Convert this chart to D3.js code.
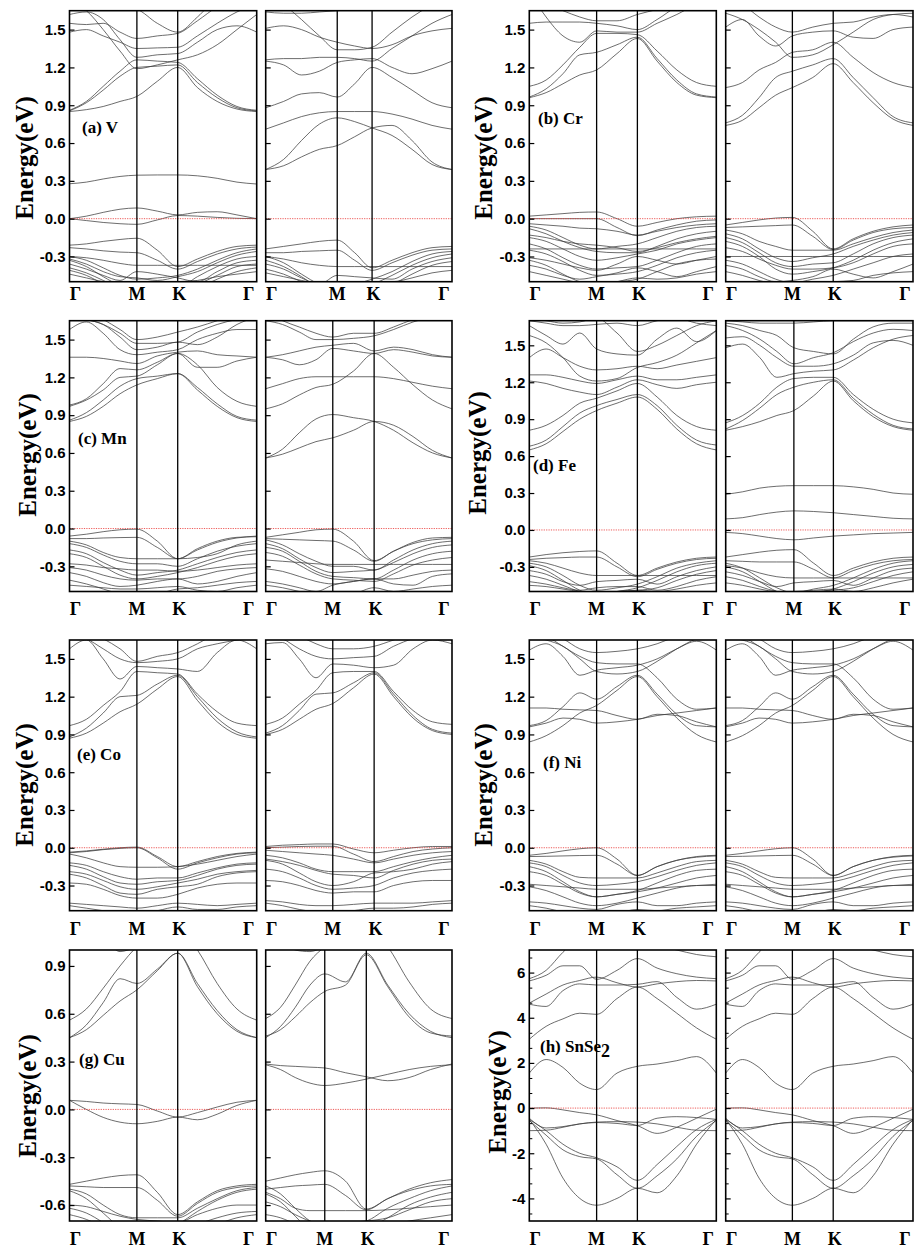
<!DOCTYPE html>
<html>
<head>
<meta charset="utf-8">
<script src="https://cdn.jsdelivr.net/npm/d3@7"></script>
<style>
  body { margin: 0; background: #fff; }
  svg text { fill: #000; }
</style>
</head>
<body>
<svg id="chart" width="914" height="1248"></svg>
<script>
// ---- k-path: high symmetry points and their labels ----
var kLabels = ["Γ", "M", "K", "Γ"];
// path coordinate of Γ, M, K, Γ for each sub plot (spin up / spin down)
var kPathStd = [0, 0.36, 0.578, 1];
var kPathA2  = [0, 0.384, 0.571, 1];
var kPathR2  = [0, 0.356, 0.574, 1];
var kPathC2  = [0, 0.36, 0.582, 1];
var kPathD2  = [0, 0.364, 0.575, 1];
var kPathG2  = [0, 0.317, 0.54, 1];

// energies are read at: Γ, 3 points on Γ-M, M, 1 point on M-K, K, 3 points on K-Γ, Γ
var ticksEnergy = [-0.3, 0, 0.3, 0.6, 0.9, 1.2, 1.5];
var ticksCu     = [-0.6, -0.3, 0, 0.3, 0.6, 0.9];
var ticksSnSe2  = [-4, -2, 0, 2, 4, 6];

// ---- (a) V ----
var bandsVUp = [
  [0.277,0.29,0.315,0.335,0.345,0.347,0.347,0.34,0.32,0.29,0.275],
  [0.0,0.02,0.05,0.075,0.085,0.06,0.03,0.05,0.055,0.03,0.0],
  [0.0,-0.015,-0.03,-0.04,-0.045,-0.01,0.025,0.02,0.01,0.003,0.0],
  [0.85,0.865,0.89,0.93,0.97,1.09,1.20,1.04,0.93,0.87,0.85],
  [0.855,0.92,1.02,1.13,1.20,1.21,1.22,1.08,0.96,0.88,0.855],
  [0.86,0.93,1.05,1.17,1.26,1.25,1.24,1.11,0.98,0.89,0.86],
  [1.48,1.50,1.45,1.40,1.35,1.355,1.36,1.45,1.55,1.64,1.70],
  [1.55,1.54,1.55,1.48,1.43,1.45,1.47,1.57,1.68,1.75,1.80],
  [1.62,1.64,1.58,1.42,1.28,1.30,1.31,1.40,1.50,1.53,1.48],
  [1.72,1.65,1.50,1.33,1.19,1.22,1.26,1.30,1.38,1.50,1.62],
  [1.80,1.75,1.70,1.68,1.66,1.55,1.48,1.60,1.75,1.80,1.80],
  [-0.21,-0.20,-0.18,-0.165,-0.155,-0.25,-0.38,-0.32,-0.26,-0.22,-0.21],
  [-0.23,-0.24,-0.255,-0.265,-0.27,-0.33,-0.40,-0.34,-0.28,-0.24,-0.225],
  [-0.30,-0.31,-0.33,-0.355,-0.37,-0.37,-0.37,-0.37,-0.37,-0.37,-0.37],
  [-0.30,-0.33,-0.39,-0.45,-0.48,-0.47,-0.45,-0.40,-0.33,-0.27,-0.24],
  [-0.32,-0.36,-0.42,-0.46,-0.47,-0.49,-0.46,-0.42,-0.35,-0.29,-0.26],
  [-0.33,-0.38,-0.46,-0.53,-0.56,-0.56,-0.55,-0.46,-0.38,-0.32,-0.30],
  [-0.36,-0.40,-0.45,-0.49,-0.42,-0.44,-0.47,-0.50,-0.42,-0.35,-0.33],
  [-0.39,-0.43,-0.49,-0.55,-0.58,-0.57,-0.56,-0.52,-0.45,-0.38,-0.36],
  [-0.41,-0.45,-0.52,-0.60,-0.62,-0.60,-0.58,-0.55,-0.48,-0.42,-0.39],
  [-0.44,-0.47,-0.50,-0.52,-0.54,-0.52,-0.50,-0.49,-0.46,-0.44,-0.42]
];
var bandsVDn = [
  [0.39,0.42,0.49,0.55,0.58,0.65,0.72,0.74,0.62,0.45,0.39],
  [0.39,0.47,0.62,0.75,0.80,0.77,0.72,0.66,0.55,0.43,0.39],
  [0.71,0.76,0.81,0.84,0.85,0.85,0.85,0.83,0.79,0.74,0.71],
  [0.88,0.93,0.99,1.0,0.965,1.07,1.20,1.12,1.02,0.92,0.88],
  [1.25,1.22,1.14,1.17,1.24,1.26,1.27,1.20,1.15,1.19,1.25],
  [1.26,1.27,1.27,1.28,1.28,1.27,1.25,1.35,1.45,1.55,1.62],
  [1.51,1.53,1.50,1.44,1.40,1.37,1.35,1.38,1.45,1.49,1.51],
  [1.64,1.63,1.63,1.64,1.65,1.66,1.68,1.70,1.72,1.72,1.72],
  [1.80,1.70,1.58,1.45,1.34,1.34,1.36,1.48,1.60,1.70,1.80],
  [-0.24,-0.22,-0.20,-0.18,-0.17,-0.27,-0.39,-0.33,-0.27,-0.23,-0.22],
  [-0.27,-0.27,-0.26,-0.255,-0.25,-0.33,-0.41,-0.35,-0.29,-0.25,-0.24],
  [-0.30,-0.32,-0.35,-0.37,-0.38,-0.38,-0.38,-0.38,-0.38,-0.38,-0.38],
  [-0.30,-0.35,-0.44,-0.52,-0.55,-0.52,-0.48,-0.42,-0.34,-0.28,-0.26],
  [-0.33,-0.38,-0.46,-0.55,-0.58,-0.55,-0.52,-0.45,-0.37,-0.31,-0.28],
  [-0.36,-0.40,-0.47,-0.52,-0.45,-0.46,-0.47,-0.48,-0.40,-0.34,-0.31],
  [-0.40,-0.44,-0.50,-0.55,-0.57,-0.56,-0.55,-0.52,-0.44,-0.37,-0.34],
  [-0.43,-0.46,-0.49,-0.52,-0.53,-0.52,-0.50,-0.50,-0.47,-0.43,-0.41]
];

// ---- (b) Cr ----
var bandsCrUp = [
  [0.96,1.0,1.07,1.14,1.18,1.31,1.43,1.25,1.08,0.98,0.96],
  [0.965,1.03,1.15,1.30,1.32,1.38,1.44,1.27,1.10,0.99,0.965],
  [1.05,1.10,1.22,1.36,1.47,1.47,1.46,1.33,1.18,1.08,1.05],
  [1.80,1.60,1.45,1.40,1.49,1.48,1.48,1.55,1.62,1.70,1.75],
  [1.55,1.56,1.56,1.56,1.55,1.53,1.50,1.58,1.68,1.72,1.75],
  [1.72,1.70,1.65,1.60,1.57,1.57,1.62,1.66,1.70,1.72,1.72],
  [0.02,0.03,0.04,0.05,0.053,0.0,-0.06,-0.03,0.0,0.015,0.02],
  [0.0,0.0,0.0,0.0,0.0,-0.07,-0.135,-0.09,-0.05,-0.02,-0.01],
  [-0.04,-0.05,-0.06,-0.075,-0.08,-0.10,-0.13,-0.10,-0.07,-0.05,-0.04],
  [-0.06,-0.09,-0.15,-0.21,-0.24,-0.22,-0.20,-0.15,-0.10,-0.07,-0.06],
  [-0.08,-0.12,-0.18,-0.23,-0.26,-0.27,-0.27,-0.22,-0.16,-0.12,-0.10],
  [-0.13,-0.15,-0.18,-0.20,-0.21,-0.23,-0.26,-0.23,-0.19,-0.16,-0.14],
  [-0.15,-0.18,-0.24,-0.30,-0.33,-0.31,-0.28,-0.25,-0.20,-0.17,-0.15],
  [-0.20,-0.24,-0.31,-0.37,-0.40,-0.39,-0.38,-0.33,-0.27,-0.22,-0.20],
  [-0.24,-0.24,-0.24,-0.24,-0.24,-0.24,-0.24,-0.24,-0.24,-0.24,-0.24],
  [-0.25,-0.28,-0.34,-0.41,-0.45,-0.44,-0.42,-0.37,-0.31,-0.27,-0.25],
  [-0.31,-0.33,-0.36,-0.39,-0.41,-0.36,-0.30,-0.33,-0.36,-0.33,-0.30],
  [-0.33,-0.37,-0.44,-0.50,-0.52,-0.50,-0.48,-0.42,-0.36,-0.33,-0.32],
  [-0.37,-0.40,-0.45,-0.48,-0.46,-0.43,-0.39,-0.42,-0.46,-0.42,-0.38],
  [-0.42,-0.45,-0.48,-0.51,-0.53,-0.50,-0.47,-0.48,-0.47,-0.44,-0.42]
];
var bandsCrDn = [
  [0.74,0.78,0.88,0.98,1.04,1.12,1.23,1.08,0.92,0.79,0.74],
  [0.76,0.82,0.96,1.12,1.17,1.22,1.27,1.12,0.96,0.81,0.76],
  [1.04,1.08,1.18,1.24,1.32,1.34,1.40,1.28,1.16,1.08,1.04],
  [1.52,1.58,1.45,1.37,1.45,1.48,1.49,1.44,1.43,1.50,1.52],
  [1.63,1.58,1.50,1.40,1.28,1.30,1.38,1.48,1.58,1.62,1.63],
  [1.75,1.70,1.60,1.52,1.48,1.52,1.55,1.56,1.60,1.62,1.60],
  [-0.05,-0.03,-0.01,0.005,0.01,-0.10,-0.24,-0.16,-0.10,-0.065,-0.05],
  [-0.07,-0.065,-0.06,-0.055,-0.05,-0.14,-0.245,-0.17,-0.11,-0.08,-0.07],
  [-0.09,-0.12,-0.18,-0.22,-0.25,-0.25,-0.25,-0.20,-0.15,-0.11,-0.09],
  [-0.12,-0.16,-0.24,-0.31,-0.34,-0.31,-0.28,-0.22,-0.17,-0.13,-0.11],
  [-0.15,-0.19,-0.27,-0.35,-0.38,-0.36,-0.35,-0.28,-0.20,-0.15,-0.13],
  [-0.18,-0.22,-0.30,-0.40,-0.44,-0.42,-0.39,-0.33,-0.25,-0.19,-0.16],
  [-0.23,-0.26,-0.32,-0.37,-0.40,-0.40,-0.39,-0.35,-0.28,-0.22,-0.20],
  [-0.30,-0.30,-0.30,-0.30,-0.30,-0.30,-0.30,-0.30,-0.30,-0.30,-0.30],
  [-0.33,-0.36,-0.42,-0.48,-0.51,-0.48,-0.45,-0.40,-0.35,-0.30,-0.28],
  [-0.37,-0.40,-0.46,-0.50,-0.49,-0.46,-0.40,-0.44,-0.47,-0.42,-0.36],
  [-0.42,-0.45,-0.49,-0.52,-0.53,-0.51,-0.50,-0.49,-0.45,-0.43,-0.42]
];

// ---- (c) Mn ----
var bandsMnUp = [
  [0.85,0.89,0.97,1.07,1.14,1.19,1.23,1.10,0.97,0.88,0.85],
  [0.86,0.92,1.02,1.13,1.19,1.21,1.23,1.12,0.99,0.89,0.86],
  [0.97,1.02,1.10,1.20,1.21,1.30,1.39,1.30,1.12,1.01,0.97],
  [0.98,1.03,1.15,1.27,1.26,1.32,1.39,1.28,1.28,1.33,1.36],
  [1.36,1.36,1.35,1.33,1.31,1.37,1.40,1.41,1.38,1.37,1.36],
  [1.58,1.64,1.55,1.42,1.38,1.40,1.42,1.50,1.55,1.58,1.58],
  [1.70,1.66,1.62,1.52,1.42,1.44,1.48,1.46,1.52,1.62,1.68],
  [1.68,1.66,1.62,1.55,1.47,1.47,1.48,1.56,1.62,1.66,1.68],
  [1.75,1.72,1.66,1.58,1.50,1.52,1.56,1.60,1.65,1.70,1.72],
  [-0.06,-0.045,-0.025,-0.01,-0.005,-0.10,-0.24,-0.17,-0.11,-0.075,-0.06],
  [-0.08,-0.08,-0.075,-0.072,-0.07,-0.15,-0.24,-0.16,-0.10,-0.07,-0.065],
  [-0.10,-0.13,-0.19,-0.23,-0.24,-0.24,-0.24,-0.23,-0.20,-0.13,-0.10],
  [-0.12,-0.15,-0.21,-0.26,-0.28,-0.28,-0.30,-0.24,-0.18,-0.14,-0.12],
  [-0.17,-0.20,-0.27,-0.33,-0.37,-0.35,-0.33,-0.28,-0.23,-0.19,-0.17],
  [-0.20,-0.23,-0.30,-0.37,-0.40,-0.38,-0.35,-0.31,-0.26,-0.22,-0.20],
  [-0.28,-0.29,-0.31,-0.32,-0.33,-0.33,-0.34,-0.33,-0.31,-0.29,-0.28],
  [-0.31,-0.33,-0.37,-0.40,-0.41,-0.40,-0.40,-0.38,-0.34,-0.32,-0.31],
  [-0.35,-0.38,-0.43,-0.46,-0.45,-0.42,-0.40,-0.44,-0.42,-0.38,-0.35],
  [-0.41,-0.44,-0.48,-0.52,-0.54,-0.52,-0.48,-0.47,-0.45,-0.43,-0.42],
  [-0.45,-0.46,-0.47,-0.48,-0.48,-0.47,-0.46,-0.49,-0.50,-0.47,-0.45]
];
var bandsMnDn = [
  [0.56,0.59,0.64,0.69,0.72,0.78,0.85,0.82,0.73,0.62,0.56],
  [0.56,0.63,0.76,0.87,0.905,0.88,0.85,0.78,0.68,0.60,0.56],
  [0.95,0.99,1.06,1.12,1.145,1.25,1.39,1.28,1.14,1.02,0.95],
  [1.11,1.15,1.19,1.205,1.205,1.205,1.205,1.19,1.16,1.13,1.11],
  [1.36,1.34,1.30,1.34,1.43,1.41,1.39,1.42,1.40,1.37,1.36],
  [1.36,1.38,1.41,1.44,1.455,1.47,1.41,1.44,1.42,1.38,1.36],
  [1.65,1.62,1.56,1.50,1.50,1.51,1.53,1.58,1.64,1.68,1.70],
  [1.72,1.65,1.60,1.55,1.52,1.55,1.55,1.60,1.66,1.70,1.72],
  [-0.07,-0.05,-0.03,-0.01,-0.005,-0.10,-0.255,-0.18,-0.11,-0.075,-0.07],
  [-0.08,-0.085,-0.09,-0.095,-0.10,-0.17,-0.26,-0.18,-0.12,-0.09,-0.08],
  [-0.25,-0.26,-0.27,-0.28,-0.285,-0.285,-0.285,-0.285,-0.285,-0.285,-0.285],
  [-0.09,-0.13,-0.20,-0.26,-0.30,-0.30,-0.33,-0.25,-0.17,-0.12,-0.10],
  [-0.12,-0.16,-0.24,-0.31,-0.35,-0.34,-0.33,-0.27,-0.20,-0.15,-0.13],
  [-0.15,-0.18,-0.26,-0.34,-0.38,-0.39,-0.40,-0.33,-0.25,-0.20,-0.18],
  [-0.19,-0.22,-0.29,-0.36,-0.40,-0.41,-0.42,-0.36,-0.29,-0.25,-0.23],
  [-0.32,-0.34,-0.38,-0.42,-0.44,-0.42,-0.40,-0.40,-0.37,-0.34,-0.33],
  [-0.42,-0.44,-0.47,-0.50,-0.45,-0.42,-0.40,-0.44,-0.45,-0.38,-0.36],
  [-0.45,-0.47,-0.50,-0.53,-0.54,-0.52,-0.47,-0.50,-0.48,-0.46,-0.45]
];

// ---- (d) Fe ----
var bandsFeUp = [
  [0.65,0.70,0.80,0.90,0.97,1.03,1.08,0.98,0.82,0.70,0.65],
  [0.68,0.73,0.84,0.95,1.01,1.06,1.10,1.01,0.85,0.73,0.69],
  [0.81,0.85,0.93,1.03,1.07,1.13,1.19,1.08,0.93,0.84,0.81],
  [1.21,1.19,1.15,1.12,1.10,1.16,1.22,1.18,1.15,1.18,1.20],
  [1.26,1.26,1.24,1.21,1.19,1.22,1.25,1.22,1.22,1.24,1.26],
  [1.40,1.47,1.40,1.33,1.30,1.31,1.33,1.31,1.34,1.37,1.40],
  [1.58,1.52,1.40,1.25,1.21,1.23,1.32,1.36,1.42,1.52,1.62],
  [1.66,1.58,1.51,1.60,1.47,1.43,1.42,1.55,1.64,1.53,1.62],
  [1.70,1.68,1.66,1.66,1.67,1.68,1.66,1.70,1.72,1.68,1.66],
  [1.72,1.70,1.68,1.69,1.72,1.60,1.45,1.50,1.58,1.66,1.70],
  [-0.22,-0.20,-0.185,-0.175,-0.17,-0.27,-0.37,-0.31,-0.26,-0.23,-0.22],
  [-0.24,-0.23,-0.225,-0.22,-0.22,-0.30,-0.38,-0.32,-0.27,-0.24,-0.23],
  [-0.25,-0.27,-0.31,-0.35,-0.37,-0.37,-0.37,-0.37,-0.37,-0.37,-0.37],
  [-0.27,-0.30,-0.37,-0.45,-0.49,-0.47,-0.44,-0.38,-0.31,-0.27,-0.25],
  [-0.29,-0.33,-0.41,-0.49,-0.53,-0.50,-0.47,-0.41,-0.34,-0.29,-0.27],
  [-0.33,-0.36,-0.42,-0.45,-0.42,-0.41,-0.40,-0.44,-0.38,-0.33,-0.30],
  [-0.37,-0.40,-0.45,-0.50,-0.52,-0.50,-0.49,-0.47,-0.41,-0.36,-0.33],
  [-0.42,-0.44,-0.47,-0.49,-0.47,-0.46,-0.46,-0.49,-0.46,-0.41,-0.38],
  [-0.45,-0.46,-0.48,-0.50,-0.51,-0.50,-0.49,-0.50,-0.48,-0.45,-0.43]
];
var bandsFeDn = [
  [0.29,0.31,0.34,0.355,0.36,0.36,0.36,0.35,0.33,0.30,0.29],
  [0.09,0.10,0.125,0.145,0.155,0.15,0.14,0.125,0.11,0.095,0.09],
  [-0.02,-0.03,-0.05,-0.07,-0.08,-0.065,-0.05,-0.04,-0.03,-0.025,-0.02],
  [0.81,0.84,0.88,0.93,0.97,1.09,1.21,1.05,0.92,0.84,0.81],
  [0.82,0.89,0.99,1.10,1.16,1.20,1.22,1.07,0.94,0.85,0.82],
  [0.87,0.93,1.03,1.16,1.23,1.24,1.24,1.10,0.98,0.90,0.87],
  [1.48,1.51,1.40,1.24,1.27,1.29,1.30,1.38,1.48,1.55,1.58],
  [1.56,1.57,1.50,1.40,1.33,1.33,1.35,1.42,1.52,1.54,1.50],
  [1.66,1.62,1.55,1.45,1.35,1.40,1.44,1.53,1.60,1.63,1.62],
  [1.68,1.66,1.62,1.58,1.48,1.45,1.43,1.55,1.65,1.68,1.68],
  [1.70,1.69,1.68,1.68,1.68,1.69,1.70,1.70,1.70,1.70,1.70],
  [-0.22,-0.20,-0.18,-0.165,-0.16,-0.27,-0.37,-0.31,-0.26,-0.23,-0.22],
  [-0.25,-0.255,-0.26,-0.26,-0.26,-0.32,-0.39,-0.33,-0.28,-0.25,-0.24],
  [-0.29,-0.31,-0.35,-0.38,-0.39,-0.39,-0.39,-0.39,-0.39,-0.39,-0.39],
  [-0.27,-0.31,-0.39,-0.47,-0.51,-0.48,-0.45,-0.39,-0.32,-0.27,-0.25],
  [-0.30,-0.34,-0.42,-0.50,-0.54,-0.51,-0.48,-0.42,-0.35,-0.30,-0.28],
  [-0.34,-0.37,-0.42,-0.46,-0.43,-0.42,-0.41,-0.45,-0.39,-0.33,-0.31],
  [-0.38,-0.41,-0.46,-0.50,-0.52,-0.50,-0.49,-0.47,-0.42,-0.37,-0.34],
  [-0.43,-0.45,-0.48,-0.50,-0.50,-0.49,-0.48,-0.50,-0.47,-0.43,-0.40]
];

// ---- (e) Co ----
var bandsCoUp = [
  [0.87,0.91,0.99,1.08,1.14,1.26,1.36,1.17,1.0,0.90,0.87],
  [0.88,0.95,1.07,1.20,1.21,1.30,1.37,1.20,1.03,0.92,0.88],
  [0.97,1.02,1.13,1.24,1.40,1.39,1.38,1.22,1.08,0.99,0.97],
  [1.58,1.65,1.50,1.34,1.44,1.43,1.42,1.40,1.55,1.65,1.58],
  [1.70,1.66,1.58,1.50,1.47,1.48,1.50,1.58,1.62,1.65,1.68],
  [1.75,1.72,1.66,1.58,1.48,1.52,1.55,1.62,1.70,1.72,1.72],
  [-0.035,-0.025,-0.012,0.0,0.005,-0.07,-0.15,-0.11,-0.07,-0.045,-0.035],
  [-0.04,-0.03,-0.015,-0.005,0.0,-0.08,-0.17,-0.12,-0.08,-0.05,-0.04],
  [-0.05,-0.08,-0.12,-0.15,-0.155,-0.155,-0.15,-0.13,-0.10,-0.07,-0.05],
  [-0.12,-0.14,-0.19,-0.23,-0.25,-0.24,-0.24,-0.20,-0.16,-0.13,-0.12],
  [-0.14,-0.17,-0.23,-0.28,-0.29,-0.27,-0.26,-0.22,-0.17,-0.14,-0.13],
  [-0.19,-0.21,-0.26,-0.31,-0.33,-0.31,-0.28,-0.25,-0.21,-0.19,-0.18],
  [-0.21,-0.24,-0.30,-0.36,-0.37,-0.33,-0.31,-0.29,-0.23,-0.20,-0.19],
  [-0.28,-0.29,-0.33,-0.38,-0.40,-0.40,-0.37,-0.32,-0.29,-0.28,-0.28],
  [-0.44,-0.45,-0.46,-0.47,-0.48,-0.46,-0.44,-0.45,-0.46,-0.45,-0.44],
  [-0.46,-0.48,-0.50,-0.52,-0.53,-0.50,-0.47,-0.49,-0.49,-0.47,-0.46]
];
var bandsCoDn = [
  [0.90,0.94,1.02,1.10,1.145,1.27,1.38,1.20,1.03,0.93,0.90],
  [0.91,0.97,1.09,1.22,1.23,1.31,1.39,1.22,1.05,0.94,0.91],
  [0.98,1.03,1.14,1.25,1.39,1.40,1.40,1.24,1.09,1.00,0.98],
  [1.62,1.63,1.50,1.35,1.46,1.45,1.43,1.45,1.58,1.65,1.62],
  [1.70,1.66,1.58,1.52,1.50,1.51,1.52,1.60,1.66,1.68,1.70],
  [1.75,1.72,1.68,1.62,1.58,1.58,1.60,1.65,1.70,1.72,1.72],
  [0.01,0.02,0.025,0.03,0.03,-0.01,-0.04,-0.02,0.0,0.01,0.01],
  [0.0,0.005,0.01,0.012,0.012,-0.05,-0.11,-0.07,-0.03,-0.01,0.0],
  [-0.02,-0.03,-0.04,-0.05,-0.06,-0.09,-0.12,-0.09,-0.06,-0.04,-0.03],
  [-0.06,-0.08,-0.12,-0.17,-0.19,-0.19,-0.19,-0.15,-0.11,-0.08,-0.06],
  [-0.09,-0.11,-0.14,-0.18,-0.21,-0.22,-0.24,-0.18,-0.13,-0.10,-0.09],
  [-0.10,-0.13,-0.20,-0.27,-0.30,-0.27,-0.20,-0.19,-0.17,-0.13,-0.11],
  [-0.17,-0.19,-0.24,-0.30,-0.33,-0.32,-0.30,-0.24,-0.20,-0.18,-0.17],
  [-0.26,-0.27,-0.30,-0.34,-0.36,-0.35,-0.35,-0.30,-0.27,-0.26,-0.26],
  [-0.42,-0.43,-0.45,-0.46,-0.46,-0.45,-0.44,-0.44,-0.44,-0.43,-0.42],
  [-0.44,-0.46,-0.49,-0.51,-0.52,-0.50,-0.48,-0.48,-0.47,-0.45,-0.44]
];

// ---- (f) Ni (both spin channels alike) ----
var bandsNi = [
  [0.84,0.89,0.97,1.07,1.13,1.25,1.36,1.20,1.03,0.90,0.84],
  [0.96,0.99,1.03,1.02,0.99,1.0,1.02,1.05,1.07,1.09,1.11],
  [1.11,1.11,1.10,1.095,1.09,1.05,1.02,1.06,1.05,1.0,0.96],
  [0.97,1.01,1.12,1.23,1.18,1.28,1.37,1.22,1.06,0.97,0.96],
  [1.57,1.62,1.52,1.37,1.41,1.43,1.45,1.50,1.58,1.64,1.57],
  [1.72,1.68,1.60,1.52,1.47,1.46,1.46,1.35,1.18,1.10,1.11],
  [1.75,1.72,1.66,1.58,1.55,1.56,1.58,1.62,1.68,1.72,1.75],
  [1.68,1.65,1.60,1.50,1.40,1.38,1.40,1.48,1.58,1.66,1.70],
  [-0.06,-0.045,-0.025,-0.008,0.0,-0.09,-0.22,-0.15,-0.10,-0.07,-0.06],
  [-0.07,-0.068,-0.065,-0.062,-0.06,-0.13,-0.22,-0.15,-0.10,-0.075,-0.065],
  [-0.10,-0.13,-0.19,-0.235,-0.24,-0.24,-0.24,-0.20,-0.15,-0.11,-0.10],
  [-0.12,-0.15,-0.22,-0.28,-0.30,-0.29,-0.27,-0.23,-0.18,-0.14,-0.12],
  [-0.15,-0.19,-0.27,-0.35,-0.39,-0.37,-0.34,-0.28,-0.22,-0.18,-0.17],
  [-0.19,-0.22,-0.29,-0.36,-0.39,-0.37,-0.35,-0.32,-0.28,-0.24,-0.22],
  [-0.29,-0.30,-0.31,-0.32,-0.33,-0.33,-0.33,-0.32,-0.31,-0.30,-0.29],
  [-0.31,-0.34,-0.39,-0.44,-0.46,-0.44,-0.40,-0.36,-0.32,-0.30,-0.30],
  [-0.43,-0.44,-0.46,-0.48,-0.49,-0.45,-0.43,-0.46,-0.46,-0.44,-0.43],
  [-0.46,-0.48,-0.51,-0.53,-0.54,-0.52,-0.49,-0.50,-0.48,-0.47,-0.46]
];

// ---- (g) Cu ----
var bandsCuUp = [
  [0.057,0.05,0.04,0.035,0.031,-0.01,-0.048,-0.02,0.015,0.045,0.057],
  [0.057,0.0,-0.05,-0.08,-0.09,-0.075,-0.048,-0.065,-0.03,0.025,0.057],
  [0.45,0.50,0.59,0.68,0.75,0.87,0.98,0.77,0.60,0.49,0.45],
  [0.45,0.53,0.67,0.82,0.79,0.88,0.98,0.79,0.62,0.50,0.45],
  [0.56,0.63,0.76,0.90,1.02,1.10,1.15,1.0,0.79,0.63,0.56],
  [1.20,1.15,1.08,0.99,1.02,1.05,1.06,1.10,1.15,1.20,1.20],
  [-0.47,-0.45,-0.43,-0.415,-0.41,-0.52,-0.66,-0.58,-0.51,-0.48,-0.47],
  [-0.48,-0.485,-0.49,-0.49,-0.49,-0.57,-0.67,-0.59,-0.52,-0.49,-0.48],
  [-0.50,-0.53,-0.60,-0.66,-0.68,-0.68,-0.68,-0.62,-0.56,-0.51,-0.49],
  [-0.51,-0.56,-0.65,-0.74,-0.78,-0.76,-0.72,-0.64,-0.57,-0.52,-0.50],
  [-0.60,-0.61,-0.64,-0.67,-0.69,-0.70,-0.71,-0.66,-0.62,-0.60,-0.60],
  [-0.62,-0.65,-0.71,-0.78,-0.80,-0.78,-0.76,-0.72,-0.68,-0.65,-0.64],
  [-0.66,-0.69,-0.74,-0.80,-0.82,-0.80,-0.78,-0.76,-0.72,-0.68,-0.66]
];
var bandsCuDn = [
  [0.28,0.25,0.20,0.165,0.15,0.165,0.19,0.22,0.25,0.27,0.28],
  [0.285,0.275,0.27,0.265,0.26,0.23,0.205,0.18,0.20,0.25,0.285],
  [0.45,0.52,0.64,0.78,0.85,0.80,0.98,0.78,0.60,0.49,0.45],
  [0.46,0.50,0.58,0.67,0.74,0.78,0.97,0.77,0.58,0.48,0.46],
  [0.57,0.64,0.78,0.93,1.02,1.10,1.15,1.02,0.80,0.63,0.57],
  [1.20,1.10,1.0,0.99,1.02,1.05,1.07,1.12,1.18,1.20,1.20],
  [-0.45,-0.43,-0.41,-0.395,-0.385,-0.45,-0.625,-0.56,-0.50,-0.46,-0.44],
  [-0.50,-0.49,-0.48,-0.475,-0.47,-0.54,-0.63,-0.56,-0.51,-0.48,-0.47],
  [-0.52,-0.56,-0.62,-0.635,-0.635,-0.635,-0.635,-0.63,-0.62,-0.61,-0.60],
  [-0.48,-0.53,-0.62,-0.70,-0.74,-0.72,-0.70,-0.62,-0.56,-0.51,-0.48],
  [-0.53,-0.58,-0.67,-0.76,-0.80,-0.78,-0.75,-0.68,-0.60,-0.55,-0.52],
  [-0.58,-0.61,-0.66,-0.70,-0.72,-0.71,-0.70,-0.68,-0.63,-0.58,-0.56],
  [-0.66,-0.68,-0.72,-0.77,-0.79,-0.77,-0.75,-0.73,-0.70,-0.68,-0.66]
];

// ---- (h) SnSe2 (both spin channels alike) ----
var bandsSnSe2 = [
  [1.55,2.15,1.80,1.10,0.82,1.55,1.85,1.95,2.10,2.28,1.55],
  [3.05,3.62,3.95,4.20,4.15,4.85,5.36,4.85,4.20,3.55,3.05],
  [4.60,4.50,5.20,5.50,5.45,5.45,5.48,5.60,4.90,4.38,4.60],
  [4.65,5.05,5.45,5.65,5.80,5.55,5.36,5.50,5.60,5.65,5.63],
  [5.63,5.88,6.30,6.30,5.70,6.10,6.62,6.20,5.95,5.80,5.73],
  [5.73,6.10,6.90,7.50,7.60,7.60,7.40,7.20,7.00,6.80,6.70],
  [0.0,0.01,-0.08,-0.20,-0.30,-0.55,-0.78,-1.12,-0.85,-0.45,-0.05],
  [-0.45,-0.88,-0.82,-0.70,-0.64,-0.68,-0.77,-0.45,-0.38,-0.42,-0.50],
  [-1.0,-0.98,-0.85,-0.70,-0.62,-0.60,-0.62,-0.70,-0.85,-0.98,-1.0],
  [-0.50,-1.00,-1.60,-2.00,-2.20,-2.60,-3.20,-2.50,-1.70,-0.95,-0.50],
  [-0.55,-1.20,-1.85,-2.15,-2.25,-2.95,-3.55,-3.00,-2.25,-1.25,-0.55],
  [-0.50,-1.60,-3.10,-4.00,-4.30,-4.00,-3.55,-3.75,-3.00,-1.60,-0.50]
];

// ---- layout ----
var colX = [[69.5, 256.7, 265.7, 452], [529.3, 716.3, 725.7, 913]];
var rowY = [[10.7, 281.7], [320.7, 591.5], [640, 910.7], [950, 1221]];
var fmt1 = function(d) { return d.toFixed(1); };
var fmt0 = function(d) { return d.toFixed(0); };

var groups = [
  {name: "(a) V",  sub: null, row: 0, col: 0, dom: [-0.5, 1.65], ticks: ticksEnergy, fmt: fmt1,
   sides: [{bands: bandsVUp, path: kPathStd}, {bands: bandsVDn, path: kPathA2}],
   lab: [82, 133], title: [24, 158], kY: 300},
  {name: "(b) Cr", sub: null, row: 0, col: 1, dom: [-0.5, 1.65], ticks: ticksEnergy, fmt: fmt1,
   sides: [{bands: bandsCrUp, path: kPathStd}, {bands: bandsCrDn, path: kPathR2}],
   lab: [538, 124], title: [483, 158], kY: 300},
  {name: "(c) Mn", sub: null, row: 1, col: 0, dom: [-0.5, 1.65], ticks: ticksEnergy, fmt: fmt1,
   sides: [{bands: bandsMnUp, path: kPathStd}, {bands: bandsMnDn, path: kPathC2}],
   lab: [78, 444], title: [27, 455], kY: 615},
  {name: "(d) Fe", sub: null, row: 1, col: 1, dom: [-0.5, 1.7], ticks: ticksEnergy, fmt: fmt1,
   sides: [{bands: bandsFeUp, path: kPathStd}, {bands: bandsFeDn, path: kPathD2}],
   lab: [533, 471], title: [477, 453], kY: 615},
  {name: "(e) Co", sub: null, row: 2, col: 0, dom: [-0.5, 1.65], ticks: ticksEnergy, fmt: fmt1,
   sides: [{bands: bandsCoUp, path: kPathStd}, {bands: bandsCoDn, path: kPathC2}],
   lab: [77, 760], title: [24, 785], kY: 935},
  {name: "(f) Ni", sub: null, row: 2, col: 1, dom: [-0.5, 1.65], ticks: ticksEnergy, fmt: fmt1,
   sides: [{bands: bandsNi, path: kPathStd}, {bands: bandsNi, path: kPathR2}],
   lab: [543, 768], title: [483, 785], kY: 935},
  {name: "(g) Cu", sub: null, row: 3, col: 0, dom: [-0.7, 1.0], ticks: ticksCu, fmt: fmt1,
   sides: [{bands: bandsCuUp, path: kPathStd}, {bands: bandsCuDn, path: kPathG2}],
   lab: [79, 1065], title: [27, 1096], kY: 1245},
  {name: "(h) SnSe", sub: "2", row: 3, col: 1, dom: [-5, 7], ticks: ticksSnSe2, fmt: fmt0, minor: true,
   sides: [{bands: bandsSnSe2, path: kPathStd}, {bands: bandsSnSe2, path: kPathR2}],
   lab: [540, 1052], title: [497, 1092], kY: 1245}
];

var svg = d3.select("#chart");
var defs = svg.append("defs");
var segIdx  = [0, 0, 0, 0, 0, 1, 1, 2, 2, 2, 2];
var segFrac = [0, 0.25, 0.5, 0.75, 1, 0.5, 1, 0.25, 0.5, 0.75, 1];

function kSamples(path) {
  return segIdx.map(function(s, i) { return path[s] + segFrac[i] * (path[s + 1] - path[s]); });
}

var clipCount = 0;

groups.forEach(function(gr) {
  var top = rowY[gr.row][0], bottom = rowY[gr.row][1];
  var xs = colX[gr.col];
  var y = d3.scaleLinear().domain(gr.dom).range([bottom, top]);

  gr.sides.forEach(function(side, si) {
    var L = xs[si * 2], R = xs[si * 2 + 1];
    var x = d3.scaleLinear().domain([0, 1]).range([L, R]);
    var ks = kSamples(side.path);
    var g = svg.append("g");

    var cid = "clip" + (clipCount++);
    defs.append("clipPath").attr("id", cid)
      .append("rect").attr("x", L).attr("y", top).attr("width", R - L).attr("height", bottom - top);

    var line = d3.line()
      .x(function(d, i) { return x(ks[i]); })
      .y(function(d) { return y(d); })
      .curve(d3.curveMonotoneX);

    var inner = g.append("g").attr("clip-path", "url(#" + cid + ")");
    inner.selectAll("path.band")
      .data(side.bands)
      .join("path")
      .attr("class", "band")
      .attr("d", line)
      .attr("fill", "none")
      .attr("stroke", "#3c3c3c")
      .attr("stroke-width", 0.75);

    // Fermi level
    inner.append("line")
      .attr("x1", L).attr("x2", R)
      .attr("y1", y(0)).attr("y2", y(0))
      .attr("stroke", "#e8312f")
      .attr("stroke-width", 0.8)
      .attr("stroke-dasharray", "1.2,1.2");

    // M and K lines
    g.selectAll("line.sym")
      .data(side.path.slice(1, 3))
      .join("line")
      .attr("class", "sym")
      .attr("x1", function(d) { return x(d); }).attr("x2", function(d) { return x(d); })
      .attr("y1", top).attr("y2", bottom)
      .attr("stroke", "#000").attr("stroke-width", 1.3);

    // frame
    g.append("rect")
      .attr("x", L).attr("y", top).attr("width", R - L).attr("height", bottom - top)
      .attr("fill", "none").attr("stroke", "#000").attr("stroke-width", 1.6);

    // energy axis (ticks point inward, labels only on the first plot)
    var ax = d3.axisLeft(y).tickValues(gr.ticks).tickSize(-5).tickPadding(4)
      .tickFormat(si === 0 ? gr.fmt : "");
    var axG = g.append("g").attr("transform", "translate(" + L + ",0)").call(ax);
    axG.select(".domain").remove();
    axG.selectAll("line").attr("stroke", "#000").attr("stroke-width", 1.2);
    axG.selectAll("text")
      .attr("font-family", "'Liberation Sans', Arial, sans-serif")
      .attr("font-weight", "bold")
      .attr("font-size", 15)
      .attr("fill", "#000");

    if (gr.minor) {
      var minorVals = d3.range(-9, 12).map(function(i) { return i * 2 / 3; })
        .filter(function(v) {
          return v > gr.dom[0] && v < gr.dom[1] &&
            gr.ticks.every(function(t) { return Math.abs(t - v) > 1e-6; });
        });
      var mAx = d3.axisLeft(y).tickValues(minorVals).tickSize(-3).tickFormat("");
      var mG = g.append("g").attr("transform", "translate(" + L + ",0)").call(mAx);
      mG.select(".domain").remove();
      mG.selectAll("line").attr("stroke", "#000").attr("stroke-width", 1);
    }

    // k-point labels
    var kx = [L + 6, x(side.path[1]), x(side.path[2]) + 1.5, R - 8];
    g.selectAll("text.klab")
      .data(kLabels)
      .join("text")
      .attr("class", "klab")
      .attr("x", function(d, i) { return kx[i]; })
      .attr("y", gr.kY)
      .attr("text-anchor", "middle")
      .attr("font-family", "'Liberation Serif', 'Times New Roman', serif")
      .attr("font-weight", "bold")
      .attr("font-size", 18)
      .text(function(d) { return d; });
  });

  // y title
  svg.append("text")
    .attr("transform", "translate(" + gr.title[0] + "," + gr.title[1] + ") rotate(-90)")
    .attr("text-anchor", "middle")
    .attr("dominant-baseline", "central")
    .attr("font-family", "'Liberation Serif', 'Times New Roman', serif")
    .attr("font-weight", "bold")
    .attr("font-size", 25)
    .text("Energy(eV)");

  // panel label
  var lab = svg.append("text")
    .attr("x", gr.lab[0]).attr("y", gr.lab[1])
    .attr("font-family", "'Liberation Serif', 'Times New Roman', serif")
    .attr("font-weight", "bold")
    .attr("font-size", 17);
  lab.append("tspan").text(gr.name);
  if (gr.sub) lab.append("tspan").attr("dy", 5).attr("font-size", 18).text(gr.sub);
});
</script>
</body>
</html>
